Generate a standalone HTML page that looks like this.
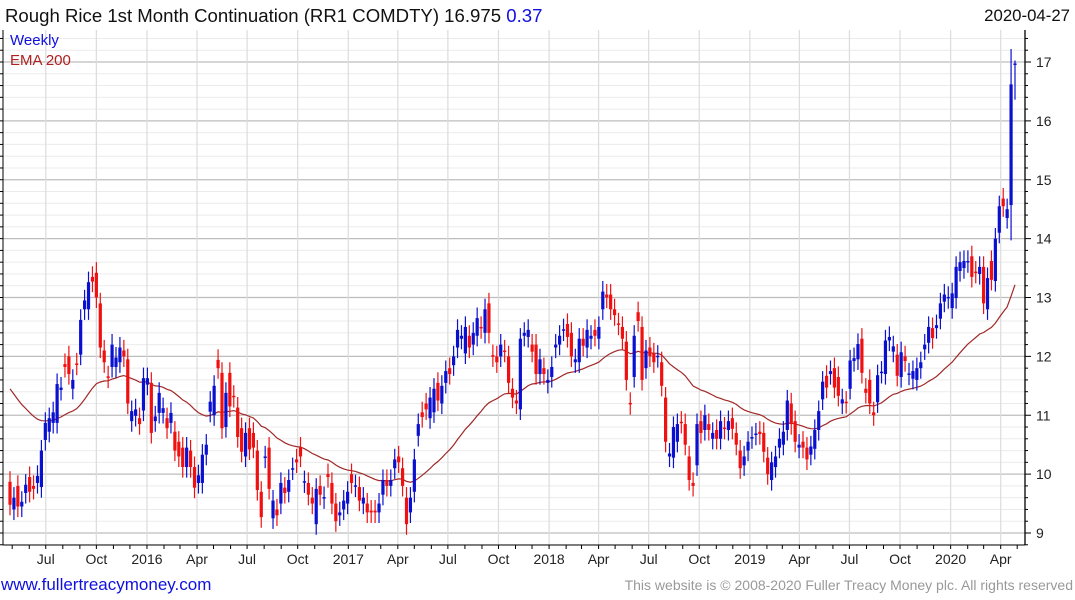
<!DOCTYPE html>
<html><head><meta charset="utf-8"><style>
body{margin:0;background:#fff;width:1075px;height:600px;overflow:hidden;font-family:"Liberation Sans",sans-serif}
svg{display:block}
</style></head><body>
<svg id="c" width="1075" height="600" xmlns="http://www.w3.org/2000/svg">
<text x="5" y="22" font-size="18.6" fill="#111">Rough Rice 1st Month Continuation (RR1 COMDTY) 16.975 <tspan fill="#1010e0">0.37</tspan></text>
<text x="1070" y="21" font-size="16.8" fill="#111" text-anchor="end">2020-04-27</text>
<g id="grid"></g>
<g id="ema"></g>
<g id="candles"></g>
<g id="axes"></g>
<text x="10" y="45" font-size="15" fill="#1010e0">Weekly</text>
<text x="10" y="65" font-size="15" fill="#b02020">EMA 200</text>
<text x="1" y="590" font-size="17" fill="#1010e0">www.fullertreacymoney.com</text>
<text x="1073" y="590" font-size="14" fill="#999" text-anchor="end">This website is © 2008-2020 Fuller Treacy Money plc. All rights reserved</text>
</svg>
<script>
const opens=[9.87,9.4,9.8,9.45,9.68,9.95,9.8,9.85,9.78,10.58,10.72,10.87,10.87,11.43,11.87,12.0,11.45,11.88,12.03,12.8,12.8,13.35,13.42,12.9,12.1,11.66,11.82,11.82,11.9,12.1,11.95,10.9,10.99,10.95,11.08,11.52,11.55,10.9,11.04,11.04,10.95,10.87,10.72,10.55,10.45,10.12,10.4,10.12,9.85,9.85,10.33,11.06,11.0,11.94,11.72,10.8,11.72,11.33,11.13,10.78,10.3,10.78,10.7,10.4,
9.7,10.28,10.45,9.25,9.4,9.5,9.77,9.7,10.08,10.25,10.45,9.86,9.85,9.6,9.15,9.8,9.59,10.0,9.85,9.5,9.3,9.4,9.5,10.0,9.79,9.78,9.5,9.5,9.38,9.38,9.35,9.65,9.9,9.8,10.1,10.3,10.1,9.6,9.35,9.7,10.65,11.05,11.2,10.95,11.05,11.55,11.2,11.55,11.8,11.85,12.15,12.3,12.05,12.35,12.2,12.35,12.5,12.4,12.9,12.02,12.0,12.0,12.1,12.0,
11.45,11.25,11.1,12.35,12.33,12.2,12.2,11.7,11.8,11.55,11.65,12.15,12.2,12.44,12.55,12.4,11.9,11.9,12.3,12.15,12.3,12.45,12.3,12.8,13.05,13.05,12.8,12.56,12.5,12.25,11.21,11.65,12.75,12.5,11.8,12.15,12.05,11.99,11.9,11.3,10.3,10.28,10.55,10.89,10.85,10.3,9.85,10.15,10.9,10.75,10.85,10.6,10.75,10.6,10.79,10.75,10.95,10.7,10.4,10.15,10.4,
10.61,10.67,10.72,10.7,10.28,9.9,10.12,10.45,10.5,10.75,11.2,10.9,10.45,10.55,10.45,10.33,10.43,10.75,11.27,11.67,11.7,11.8,11.65,11.2,11.23,11.45,11.92,11.95,12.3,11.45,11.6,11.05,11.22,11.72,11.7,12.27,12.08,12.03,11.65,12.0,11.69,11.62,11.6,11.8,12.12,12.23,12.48,12.48,12.64,12.93,12.99,12.82,12.99,13.45,13.5,13.6,13.7,13.44,13.4,13.52,12.8,13.62,13.28,14.1,14.68,14.35,14.57,16.96];
const closes=[9.48,9.6,9.45,9.53,9.82,9.7,9.75,9.97,10.4,10.87,10.95,11.05,11.53,11.47,11.82,11.7,11.6,11.86,12.62,12.95,13.26,13.27,13.0,12.15,11.9,11.64,12.2,11.98,12.15,12.0,11.2,11.07,11.1,10.85,11.63,11.63,10.7,10.98,11.38,11.12,10.78,11.04,10.4,10.3,10.12,10.45,10.12,9.77,9.98,10.33,10.5,11.23,11.5,11.8,10.78,11.38,11.15,11.31,10.63,10.38,10.7,10.42,10.45,9.73,
9.27,10.3,9.75,9.55,9.3,9.85,9.68,9.9,10.1,10.2,10.3,9.88,9.65,9.5,9.75,9.65,9.61,9.95,9.5,9.2,9.35,9.55,9.7,9.85,9.81,9.55,9.6,9.35,9.35,9.35,9.5,9.9,9.8,9.9,10.25,10.2,9.8,9.15,9.6,10.25,10.85,10.97,11.1,11.3,11.45,11.25,11.5,11.75,11.7,12.0,12.45,12.35,12.5,12.15,12.4,12.65,12.48,12.8,12.4,12.0,11.9,12.2,12.08,11.55,
11.3,11.2,12.3,12.4,12.45,12.08,11.7,11.95,11.7,11.6,11.82,12.2,12.35,12.46,12.33,12.0,11.95,12.3,12.18,12.45,12.35,12.35,12.5,13.1,13.0,12.8,12.7,12.54,12.3,11.6,11.19,12.35,12.6,11.6,12.1,12.0,11.9,12.01,11.5,10.55,10.35,10.8,10.85,10.87,10.5,9.9,9.8,10.85,10.7,11.0,10.75,10.7,10.6,10.9,10.77,10.9,10.77,10.5,10.1,10.3,10.55,
10.63,10.69,10.68,10.38,10.0,10.2,10.3,10.6,10.72,11.25,10.85,10.55,10.5,10.45,10.25,10.47,10.75,11.07,11.57,11.47,11.75,11.47,11.33,11.27,11.21,11.93,11.97,12.21,11.72,11.38,11.2,11.0,11.68,11.74,12.27,12.33,12.17,11.67,12.07,11.92,11.71,11.75,11.8,11.9,12.2,12.5,12.31,12.53,12.9,13.05,13.01,13.07,13.52,13.6,13.62,13.62,13.35,13.42,13.52,12.9,13.33,13.3,14.0,14.55,14.55,14.5,16.62,16.975];
const yTicks=[9,10,11,12,13,14,15,16,17];
const xTickLabels=["Jul","Oct","2016","Apr","Jul","Oct","2017","Apr","Jul","Oct","2018","Apr","Jul","Oct","2019","Apr","Jul","Oct","2020","Apr"];
const xTickDates=["2015-07-01","2015-10-01","2016-01-01","2016-04-01","2016-07-01","2016-10-01","2017-01-01","2017-04-01","2017-07-01","2017-10-01","2018-01-01","2018-04-01","2018-07-01","2018-10-01","2019-01-01","2019-04-01","2019-07-01","2019-10-01","2020-01-01","2020-04-01"];
const emaSeed=11.55, emaPeriod=40;

const NS="http://www.w3.org/2000/svg";
const PL=3,PR=1025,PT=30,PB=545;
const y=v=>62+(17-v)*58.875;
const n=closes.length;
const xi=i=>10+i*(1005/(n-1));
const d0=new Date("2015-04-27").getTime(), d1=new Date("2020-04-27").getTime();
const xd=s=>10+(new Date(s).getTime()-d0)/(d1-d0)*1005;
function mk(tag,attrs,parent){const e=document.createElementNS(NS,tag);for(const k in attrs)e.setAttribute(k,attrs[k]);parent.appendChild(e);return e;}
const grid=document.getElementById('grid'),axes=document.getElementById('axes'),cg=document.getElementById('candles'),eg=document.getElementById('ema');
for(let v=8.8;v<=17.41;v+=0.2){const vv=Math.round(v*10)/10;const yy=y(vv);if(yy<PT||yy>PB)continue;const major=Math.abs(vv-Math.round(vv))<0.01;
const l=mk('line',{x1:PL,x2:PR,y1:yy,y2:yy,stroke:major?'#bdbdbd':'#ebebeb','stroke-width':major?1.2:1},grid);


const t=mk('line',{x1:PR,x2:PR+(major?6:3),y1:yy,y2:yy,stroke:'#000'},axes);


const t2=mk('line',{x1:PL-3,x2:PL,y1:yy,y2:yy,stroke:'#000'},axes);

}
yTicks.forEach(v=>{const t=mk('text',{x:PR+11,y:y(v)+5,'font-size':14,fill:'#222'},axes);t.textContent=v;

});
xTickDates.forEach((s,i)=>{const xx=xd(s);
const l=mk('line',{x1:xx,x2:xx,y1:PT,y2:PB,stroke:'#dcdcdc','stroke-width':1.2},grid);


const t=mk('text',{x:xx,y:564,'font-size':14,fill:'#222','text-anchor':'middle'},axes);t.textContent=xTickLabels[i];

});
for(let yr=2015;yr<=2020;yr++)for(let m=0;m<12;m++){const s=yr+'-'+String(m+1).padStart(2,'0')+'-01';const xx=xd(s);if(xx<PL||xx>PR)continue;
const t=mk('line',{x1:xx,x2:xx,y1:PB,y2:PB+4,stroke:'#000'},axes);

}
const ax=mk('line',{x1:PR,x2:PR,y1:PT,y2:PB,stroke:'#000','stroke-width':1.3},axes);


const axl=mk('line',{x1:PL,x2:PL,y1:PT,y2:PB,stroke:'#000'},axes);


const bx=mk('line',{x1:PL,x2:PR,y1:PB,y2:PB,stroke:'#000'},axes);


let e=emaSeed,pts=[];const a=2/(emaPeriod+1);
for(let i=0;i<n;i++){e=e+a*(closes[i]-e);pts.push(xi(i).toFixed(1)+','+y(e).toFixed(1));}
const pl=mk('polyline',{points:pts.join(' '),fill:'none',stroke:'#a02828','stroke-width':1.2},eg);


for(let i=0;i<n;i++){const o=opens[i],c=closes[i];const up=c>=o;const col=up?'#0a10d0':'#f01010';
const wick=i>=n-2?0.6:0.18;
const hi=Math.max(o,c)+(i===n-1?0.05:wick),lo=Math.min(o,c)-wick;const xx=xi(i);
const w=mk('line',{x1:xx,x2:xx,y1:y(hi),y2:y(lo),stroke:col,'stroke-width':1.2},cg);


const top=y(Math.max(o,c)),h=Math.max(1.5,y(Math.min(o,c))-top);
const b=mk('rect',{x:xx-1.6,y:top,width:3.2,height:h,fill:col},cg);

}
</script>
</body></html>
